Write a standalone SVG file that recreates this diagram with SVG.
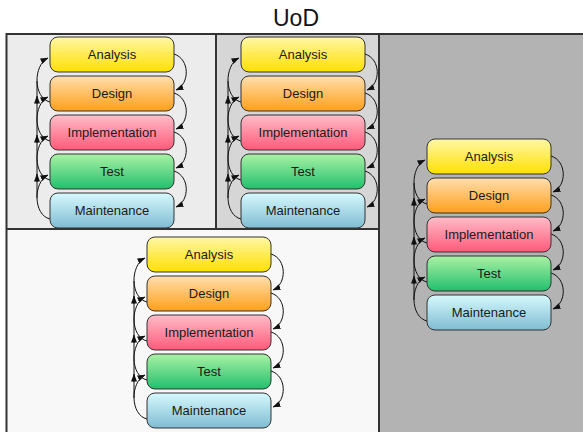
<svg xmlns="http://www.w3.org/2000/svg" width="583" height="432" viewBox="0 0 583 432">
<style>
.box{stroke:#333;stroke-width:1}
.lbl{font-family:"Liberation Sans",Arial,sans-serif;font-size:13px;fill:#1a1a1a;text-anchor:middle}
.c{fill:none;stroke:#111;stroke-width:1;marker-end:url(#ah)}
.v{fill:none;stroke:#111;stroke-width:1}
.div{stroke:#333;stroke-width:2;fill:none}
</style>
<defs>
<marker id="ah" markerUnits="userSpaceOnUse" markerWidth="8" markerHeight="6" refX="7.5" refY="3" orient="auto"><path d="M0,0 L8,3 L0,6 z" fill="#111"/></marker>
<linearGradient id="gA" x1="0" y1="0" x2="0" y2="1"><stop offset="0" stop-color="#fff7a6"/><stop offset="1" stop-color="#ffe000"/></linearGradient>
<linearGradient id="gD" x1="0" y1="0" x2="0" y2="1"><stop offset="0" stop-color="#ffdeae"/><stop offset="1" stop-color="#ffa01a"/></linearGradient>
<linearGradient id="gI" x1="0" y1="0" x2="0" y2="1"><stop offset="0" stop-color="#ffbcc8"/><stop offset="1" stop-color="#ff5a7a"/></linearGradient>
<linearGradient id="gT" x1="0" y1="0" x2="0" y2="1"><stop offset="0" stop-color="#aaf2a4"/><stop offset="1" stop-color="#22bf6e"/></linearGradient>
<linearGradient id="gM" x1="0" y1="0" x2="0" y2="1"><stop offset="0" stop-color="#d6f9fd"/><stop offset="1" stop-color="#80bcd2"/></linearGradient>
</defs>
<rect width="583" height="432" fill="#fff"/>
<text x="296" y="26" font-family="Liberation Sans,Arial,sans-serif" font-size="23" text-anchor="middle" fill="#111">UoD</text>
<g id="panels">
<rect x="6.5" y="34" width="209.5" height="195" fill="#ececec"/>
<rect x="216" y="34" width="163" height="195" fill="#d6d6d6"/>
<rect x="379" y="34" width="204" height="398" fill="#b3b3b3"/>
<rect x="6.5" y="229" width="372.5" height="203" fill="#f8f8f8"/>
<path class="div" d="M6.5,440 V34 H590 M216,34 V229 M6.5,229 H379 M379,34 V440"/>
</g>
<g id="connectors">
<!-- stack A L=50 R=174 T=37 -->
<path class="c" d="M174,54 C190,59 190,84 176,90"/>
<path class="c" d="M174,93 C190,98 190,123 176,129"/>
<path class="c" d="M174,132 C190,137 190,162 176,168"/>
<path class="c" d="M174,171 C190,176 190,201 176,207"/>
<path class="c" d="M50,102 C33,98 33,65 48,58"/>
<path class="c" d="M50,141 C33,137 33,104 48,97"/>
<path class="c" d="M50,180 C33,176 33,143 48,136"/>
<path class="c" d="M50,219 C33,215 33,182 48,175"/>
<path class="v" d="M37,198 V81"/>
<path class="c" d="M37,104 V96"/>
<path class="c" d="M37,143 V135"/>
<path class="c" d="M37,182 V174"/>
<!-- stack B L=241 R=365 T=37 -->
<path class="c" d="M365,54 C381,59 381,84 367,90"/>
<path class="c" d="M365,93 C381,98 381,123 367,129"/>
<path class="c" d="M365,132 C381,137 381,162 367,168"/>
<path class="c" d="M365,171 C381,176 381,201 367,207"/>
<path class="c" d="M241,102 C224,98 224,65 239,58"/>
<path class="c" d="M241,141 C224,137 224,104 239,97"/>
<path class="c" d="M241,180 C224,176 224,143 239,136"/>
<path class="c" d="M241,219 C224,215 224,182 239,175"/>
<path class="v" d="M228,198 V81"/>
<path class="c" d="M228,104 V96"/>
<path class="c" d="M228,143 V135"/>
<path class="c" d="M228,182 V174"/>
<!-- stack C L=427 R=551 T=139 -->
<path class="c" d="M551,156 C567,161 567,186 553,192"/>
<path class="c" d="M551,195 C567,200 567,225 553,231"/>
<path class="c" d="M551,234 C567,239 567,264 553,270"/>
<path class="c" d="M551,273 C567,278 567,303 553,309"/>
<path class="c" d="M427,204 C410,200 410,167 425,160"/>
<path class="c" d="M427,243 C410,239 410,206 425,199"/>
<path class="c" d="M427,282 C410,278 410,245 425,238"/>
<path class="c" d="M427,321 C410,317 410,284 425,277"/>
<path class="v" d="M414,300 V183"/>
<path class="c" d="M414,206 V198"/>
<path class="c" d="M414,245 V237"/>
<path class="c" d="M414,284 V276"/>
<!-- stack D L=147 R=271 T=237 -->
<path class="c" d="M271,254 C287,259 287,284 273,290"/>
<path class="c" d="M271,293 C287,298 287,323 273,329"/>
<path class="c" d="M271,332 C287,337 287,362 273,368"/>
<path class="c" d="M271,371 C287,376 287,401 273,407"/>
<path class="c" d="M147,302 C130,298 130,265 145,258"/>
<path class="c" d="M147,341 C130,337 130,304 145,297"/>
<path class="c" d="M147,380 C130,376 130,343 145,336"/>
<path class="c" d="M147,419 C130,415 130,382 145,375"/>
<path class="v" d="M134,398 V281"/>
<path class="c" d="M134,304 V296"/>
<path class="c" d="M134,343 V335"/>
<path class="c" d="M134,382 V374"/>
</g>
<g id="a-analysis"><rect class="box" x="50" y="37" width="124" height="35" rx="8" fill="url(#gA)"/><text class="lbl" x="112" y="59">Analysis</text></g>
<g id="a-design"><rect class="box" x="50" y="76" width="124" height="35" rx="8" fill="url(#gD)"/><text class="lbl" x="112" y="98">Design</text></g>
<g id="a-implementation"><rect class="box" x="50" y="115" width="124" height="35" rx="8" fill="url(#gI)"/><text class="lbl" x="112" y="137">Implementation</text></g>
<g id="a-test"><rect class="box" x="50" y="154" width="124" height="35" rx="8" fill="url(#gT)"/><text class="lbl" x="112" y="176">Test</text></g>
<g id="a-maintenance"><rect class="box" x="50" y="193" width="124" height="35" rx="8" fill="url(#gM)"/><text class="lbl" x="112" y="215">Maintenance</text></g>
<g id="b-analysis"><rect class="box" x="241" y="37" width="124" height="35" rx="8" fill="url(#gA)"/><text class="lbl" x="303" y="59">Analysis</text></g>
<g id="b-design"><rect class="box" x="241" y="76" width="124" height="35" rx="8" fill="url(#gD)"/><text class="lbl" x="303" y="98">Design</text></g>
<g id="b-implementation"><rect class="box" x="241" y="115" width="124" height="35" rx="8" fill="url(#gI)"/><text class="lbl" x="303" y="137">Implementation</text></g>
<g id="b-test"><rect class="box" x="241" y="154" width="124" height="35" rx="8" fill="url(#gT)"/><text class="lbl" x="303" y="176">Test</text></g>
<g id="b-maintenance"><rect class="box" x="241" y="193" width="124" height="35" rx="8" fill="url(#gM)"/><text class="lbl" x="303" y="215">Maintenance</text></g>
<g id="c-analysis"><rect class="box" x="427" y="139" width="124" height="35" rx="8" fill="url(#gA)"/><text class="lbl" x="489" y="161">Analysis</text></g>
<g id="c-design"><rect class="box" x="427" y="178" width="124" height="35" rx="8" fill="url(#gD)"/><text class="lbl" x="489" y="200">Design</text></g>
<g id="c-implementation"><rect class="box" x="427" y="217" width="124" height="35" rx="8" fill="url(#gI)"/><text class="lbl" x="489" y="239">Implementation</text></g>
<g id="c-test"><rect class="box" x="427" y="256" width="124" height="35" rx="8" fill="url(#gT)"/><text class="lbl" x="489" y="278">Test</text></g>
<g id="c-maintenance"><rect class="box" x="427" y="295" width="124" height="35" rx="8" fill="url(#gM)"/><text class="lbl" x="489" y="317">Maintenance</text></g>
<g id="d-analysis"><rect class="box" x="147" y="237" width="124" height="35" rx="8" fill="url(#gA)"/><text class="lbl" x="209" y="259">Analysis</text></g>
<g id="d-design"><rect class="box" x="147" y="276" width="124" height="35" rx="8" fill="url(#gD)"/><text class="lbl" x="209" y="298">Design</text></g>
<g id="d-implementation"><rect class="box" x="147" y="315" width="124" height="35" rx="8" fill="url(#gI)"/><text class="lbl" x="209" y="337">Implementation</text></g>
<g id="d-test"><rect class="box" x="147" y="354" width="124" height="35" rx="8" fill="url(#gT)"/><text class="lbl" x="209" y="376">Test</text></g>
<g id="d-maintenance"><rect class="box" x="147" y="393" width="124" height="35" rx="8" fill="url(#gM)"/><text class="lbl" x="209" y="415">Maintenance</text></g>
</svg>
